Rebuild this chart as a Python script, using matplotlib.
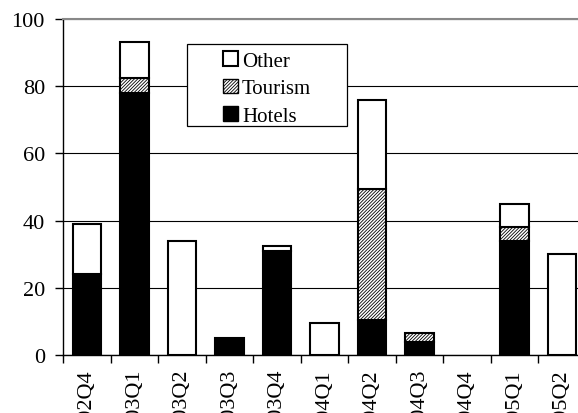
import matplotlib
matplotlib.use("Agg")
import matplotlib.pyplot as plt
from matplotlib.patches import Patch, Rectangle
import numpy as np

quarters = ["2002Q4", "2003Q1", "2003Q2", "2003Q3", "2003Q4", "2004Q1",
            "2004Q2", "2004Q3", "2004Q4", "2005Q1", "2005Q2"]
hotels = [24, 78, 0, 5, 31, 0, 10.5, 4, 0, 34, 0]
tourism = [0, 4.5, 0, 0, 0, 0, 39, 2.5, 0, 4, 0]
other = [15, 10.5, 34, 0, 1.5, 9.5, 26.5, 0, 0, 7, 30]

plt.rcParams['font.family'] = ['Liberation Serif', 'DejaVu Serif']
plt.rcParams['hatch.linewidth'] = 0.6

fig = plt.figure(figsize=(5.78, 4.14), dpi=100)
ax = fig.add_axes([0.109, 0.140, 0.904, 0.812])

x = np.arange(len(quarters))
w = 0.6
hotels = np.array(hotels)
tourism = np.array(tourism)
other = np.array(other)
HATCH = "//////////"

ax.yaxis.grid(True, color="black", linewidth=0.8)
ax.set_axisbelow(True)

b1 = ax.bar(x, hotels, w, color="black", edgecolor="black", linewidth=1.5)
b2 = ax.bar(x, tourism, w, bottom=hotels, color="white", edgecolor="black",
            hatch=HATCH, linewidth=1.5)
b3 = ax.bar(x, other, w, bottom=hotels + tourism, color="white", edgecolor="black",
            linewidth=1.5)
# hide zero-height bars
for bars, vals in ((b1, hotels), (b2, tourism), (b3, other)):
    for r, v in zip(bars, vals):
        if v == 0:
            r.set_visible(False)

ax.set_xlim(-0.5, len(quarters) - 0.5)
ax.set_ylim(0, 100)
ax.set_yticks([0, 20, 40, 60, 80, 100])
ax.set_xticks(x)
ax.set_xticklabels(quarters, rotation=90, va="top")
ax.set_xticks(np.arange(len(quarters) + 1) - 0.5, minor=True)
ax.tick_params(axis="x", which="major", length=0, labelsize=16, pad=10)
ax.tick_params(axis="x", which="minor", length=6, width=1, direction="out")
ax.tick_params(axis="y", length=6, width=1, labelsize=16, pad=7)

ax.spines["right"].set_visible(False)
ax.spines["top"].set_color("#888888")
ax.spines["top"].set_linewidth(1.5)
ax.spines["left"].set_linewidth(1)
ax.spines["bottom"].set_linewidth(1)

# legend frame drawn separately so the entries can sit off-centre like the original
ax.add_patch(Rectangle((0.2373, 0.6815), 0.306, 0.244, transform=ax.transAxes,
                       facecolor="white", edgecolor="black", linewidth=0.9,
                       zorder=4, clip_on=False))
handles = [Patch(facecolor="white", edgecolor="black", linewidth=1.5, label="Other"),
           Patch(facecolor="white", edgecolor="black", hatch=HATCH, linewidth=1, label="Tourism"),
           Patch(facecolor="black", edgecolor="black", linewidth=1, label="Hotels")]
leg = ax.legend(handles=handles, loc="upper left",
                bbox_to_anchor=(0.306, 0.904), borderaxespad=0, borderpad=0,
                fontsize=15, frameon=False,
                handlelength=0.72, handleheight=0.72, handletextpad=0.2,
                labelspacing=0.37)
leg.set_zorder(5)

fig.savefig("out.png", dpi=100)
